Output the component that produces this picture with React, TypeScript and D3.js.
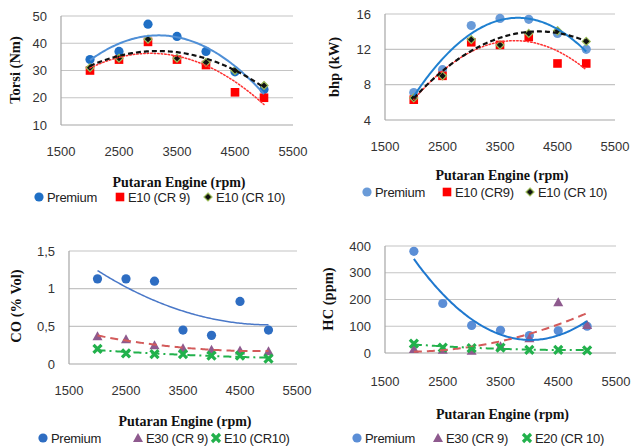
import React from 'react';
import * as d3 from 'd3';

// rpm values and axis ticks
const RPM = [2000, 2500, 3000, 3500, 4000, 4500, 5000];
const X_TICKS = [1500, 2500, 3500, 4500, 5500];

// Torsi (Nm)
const torsiPremium = [34, 37, 47, 42.5, 37, 29.5, 23];
const torsiE10CR9 = [30, 34, 40.5, 34, 32, 22, 20];
const torsiE10CR10 = [31, 34.5, 41.5, 34.5, 33, 30, 24.5];
const TORSI_TICKS = [10, 20, 30, 40, 50];

// bhp (kW)
const bhpPremium = [7.1, 9.7, 14.7, 15.5, 15.4, 13.8, 12];
const bhpE10CR9 = [6.3, 9.0, 12.8, 12.5, 13.4, 10.4, 10.4];
const bhpE10CR10 = [6.5, 9.0, 13.1, 12.5, 13.8, 14.1, 12.9];
const BHP_TICKS = [4, 8, 12, 16];

// CO (% Vol)
const coPremium = [1.13, 1.13, 1.1, 0.45, 0.38, 0.83, 0.45];
const coE30CR9 = [0.37, 0.33, 0.25, 0.21, 0.19, 0.18, 0.17];
const coE10CR10 = [0.2, 0.14, 0.13, 0.13, 0.11, 0.11, 0.07];
const CO_TICKS = [0, 0.5, 1, 1.5];
const CO_TICK_LABELS = ['0', '0,5', '1', '1,5'];

// HC (ppm)
const hcPremium = [380, 185, 103, 85, 65, 83, 100];
const hcE30CR9 = [15, 12, 8, 25, 55, 190, 105];
const hcE20CR10 = [35, 20, 18, 20, 12, 12, 10];
const HC_TICKS = [0, 100, 200, 300, 400];

// excel style polynomial (order 2) trendline
function quadFit(xs: number[], ys: number[]) {
  const mx = d3.mean(xs)!;
  const t = xs.map(x => (x - mx) / 500);
  const mt2 = d3.mean(t.map(v => v * v))!;
  const my = d3.mean(ys)!;
  const b = d3.sum(t.map((v, i) => v * ys[i])) / d3.sum(t.map(v => v * v));
  const p2 = t.map(v => v * v - mt2);
  const c = d3.sum(p2.map((v, i) => v * ys[i])) / d3.sum(p2.map(v => v * v));
  return (x: number) => {
    const tt = (x - mx) / 500;
    return my + b * tt + c * (tt * tt - mt2);
  };
}

const FONT = '"Liberation Sans", Arial, sans-serif';
const SERIF = '"Liberation Serif", "Times New Roman", serif';

function Marker({ type, x, y, color }: { type: string; x: number; y: number; color: string }) {
  if (type === 'circle') return <circle cx={x} cy={y} r={4.6} fill={color} />;
  if (type === 'square') return <rect x={x - 4.3} y={y - 4.3} width={8.6} height={8.6} fill={color} />;
  if (type === 'diamond')
    return <path d={`M${x},${y - 4}L${x + 4},${y}L${x},${y + 4}L${x - 4},${y}Z`} fill="#111" stroke="#9bbb59" strokeWidth={1.2} />;
  if (type === 'triangle')
    return <path d={`M${x},${y - 5}L${x + 5},${y + 4}L${x - 5},${y + 4}Z`} fill={color} />;
  // x marker
  return (
    <path d={`M${x - 4},${y - 4}L${x + 4},${y + 4}M${x + 4},${y - 4}L${x - 4},${y + 4}`} stroke={color} strokeWidth={3.2} />
  );
}

type Series = {
  name: string;
  values: number[];
  marker: string;
  color: string;
  line: string;
  width: number;
  dash?: string;
  legendX: number;
};

type PanelProps = {
  x0: number; x1: number; yTop: number; yBot: number;
  domain: [number, number];
  yTicks: number[];
  yTickLabels?: string[];
  yTitle: string;
  yTitleX: number;
  yTitleY: number;
  tickY: number;
  titleY: number;
  legendY: number;
  series: Series[];
};

function Panel(p: PanelProps) {
  const x = d3.scaleLinear().domain([1500, 5500]).range([p.x0, p.x1]);
  const y = d3.scaleLinear().domain(p.domain).range([p.yBot, p.yTop]);
  const samples = d3.range(2000, 5001, 25);
  return (
    <g>
      {p.yTicks.map((t, i) => (
        <g key={t}>
          <line x1={p.x0} x2={p.x1} y1={y(t)} y2={y(t)} stroke={i === 0 ? '#a6a6a6' : '#c4c4c4'} strokeWidth={1.2} />
          <text x={p.x0 - 14} y={y(t)} textAnchor="end" dominantBaseline="central" fontFamily={FONT} fontSize={13} fill="#333">
            {p.yTickLabels ? p.yTickLabels[i] : t}
          </text>
        </g>
      ))}
      <line x1={p.x0} x2={p.x0} y1={p.yTop} y2={p.yBot} stroke="#a6a6a6" strokeWidth={1.2} />
      {X_TICKS.map(t => (
        <text key={t} x={x(t)} y={p.tickY} textAnchor="middle" dominantBaseline="central" fontFamily={FONT} fontSize={13} fill="#333">
          {t}
        </text>
      ))}
      {p.series.map(s => (
        <g key={s.name}>
          {s.values.map((v, i) => (
            <Marker key={i} type={s.marker} x={x(RPM[i])} y={y(v)} color={s.color} />
          ))}
        </g>
      ))}
      {p.series.map(s => {
        const f = quadFit(RPM, s.values);
        const l = d3.line<number>().x(d => x(d)).y(d => y(f(d)));
        return (
          <path key={s.name + 'trend'} d={l(samples) || ''} fill="none" stroke={s.line} strokeWidth={s.width}
            strokeDasharray={s.dash} strokeLinecap={s.dash === '1.5,2' ? 'round' : 'butt'} />
        );
      })}
      <text transform={`translate(${p.yTitleX},${p.yTitleY}) rotate(-90)`} textAnchor="middle" dominantBaseline="central"
        fontFamily={SERIF} fontWeight="bold" fontSize={14.5} fill="#111">
        {p.yTitle}
      </text>
      <text x={(p.x0 + p.x1) / 2 + 2} y={p.titleY} textAnchor="middle" dominantBaseline="central"
        fontFamily={SERIF} fontWeight="bold" fontSize={14} fill="#111">
        Putaran Engine (rpm)
      </text>
      {p.series.map(s => (
        <g key={s.name + 'leg'}>
          <Marker type={s.marker} x={s.legendX} y={p.legendY} color={s.color} />
          <text x={s.legendX + 8} y={p.legendY} dominantBaseline="central" fontFamily={FONT} fontSize={13}
            letterSpacing={-0.3} fill="#222">
            {s.name}
          </text>
        </g>
      ))}
    </g>
  );
}

export default function App() {
  return (
    <svg width={633} height={446} style={{ position: 'absolute', left: 0, top: 0, background: '#fff' }}>
      <Panel x0={61} x1={293} yTop={16} yBot={125} domain={[10, 50]} yTicks={TORSI_TICKS}
        yTitle="Torsi (Nm)" yTitleX={15} yTitleY={70} tickY={151} titleY={182} legendY={197}
        series={[
          { name: 'Premium', values: torsiPremium, marker: 'circle', color: '#1f6fc5', line: '#4f8fd6', width: 2, legendX: 39 },
          { name: 'E10 (CR 9)', values: torsiE10CR9, marker: 'square', color: '#ff0000', line: '#ff3030', width: 1.5, dash: '1.5,2', legendX: 120 },
          { name: 'E10 (CR 10)', values: torsiE10CR10, marker: 'diamond', color: '#111', line: '#111', width: 2.2, dash: '5,3', legendX: 208 },
        ]} />
      <Panel x0={385} x1={615} yTop={14} yBot={120} domain={[4, 16]} yTicks={BHP_TICKS}
        yTitle="bhp (kW)" yTitleX={334} yTitleY={67} tickY={146} titleY={175} legendY={192}
        series={[
          { name: 'Premium', values: bhpPremium, marker: 'circle', color: '#6a9bd8', line: '#1f80d0', width: 2, legendX: 367 },
          { name: 'E10 (CR9)', values: bhpE10CR9, marker: 'square', color: '#ff0000', line: '#ff3030', width: 1.5, dash: '1.5,2', legendX: 447 },
          { name: 'E10 (CR 10)', values: bhpE10CR10, marker: 'diamond', color: '#111', line: '#111', width: 2.2, dash: '5,3', legendX: 530 },
        ]} />
      <Panel x0={69} x1={297} yTop={251} yBot={364} domain={[0, 1.5]} yTicks={CO_TICKS} yTickLabels={CO_TICK_LABELS}
        yTitle="CO (% Vol)" yTitleX={16} yTitleY={306} tickY={390} titleY={421} legendY={438}
        series={[
          { name: 'Premium', values: coPremium, marker: 'circle', color: '#2e6dc2', line: '#4a78c8', width: 1.5, legendX: 43 },
          { name: 'E30 (CR 9)', values: coE30CR9, marker: 'triangle', color: '#8e5a8e', line: '#d35b5b', width: 2, dash: '8,5', legendX: 138 },
          { name: 'E10 (CR10)', values: coE10CR10, marker: 'x', color: '#22b14c', line: '#22b14c', width: 2, dash: '8,4,2,4', legendX: 216 },
        ]} />
      <Panel x0={385} x1={616} yTop={246} yBot={353} domain={[0, 400]} yTicks={HC_TICKS}
        yTitle="HC (ppm)" yTitleX={328} yTitleY={299} tickY={381} titleY={414} legendY={438}
        series={[
          { name: 'Premium', values: hcPremium, marker: 'circle', color: '#5b8ed6', line: '#1f78cf', width: 2, legendX: 357 },
          { name: 'E30 (CR 9)', values: hcE30CR9, marker: 'triangle', color: '#8e5a8e', line: '#d35b5b', width: 2, dash: '8,5', legendX: 438 },
          { name: 'E20 (CR 10)', values: hcE20CR10, marker: 'x', color: '#22b14c', line: '#22b14c', width: 2, dash: '8,4,2,4', legendX: 527 },
        ]} />
    </svg>
  );
}
